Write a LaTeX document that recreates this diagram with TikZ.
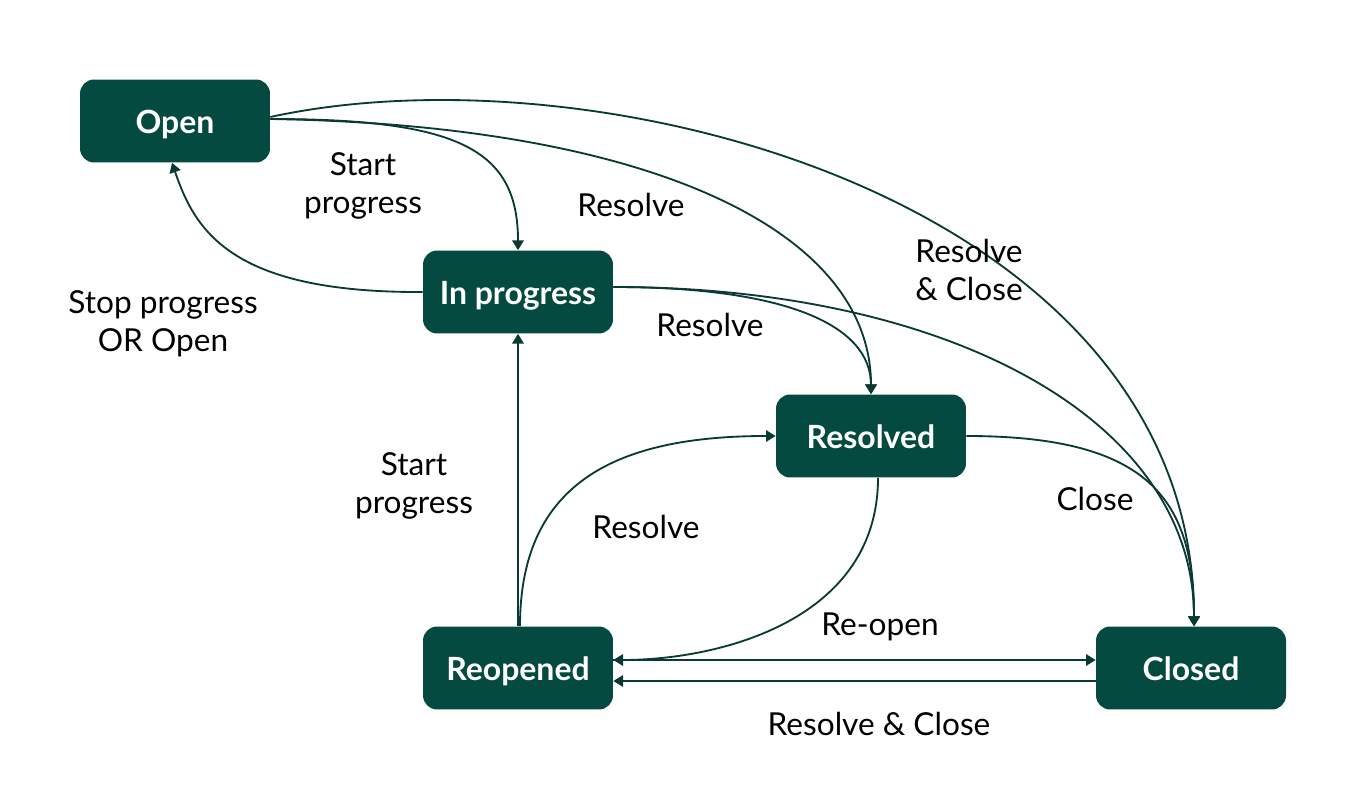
\documentclass[tikz,border=0pt]{standalone}
\usepackage{fontspec}
\setmainfont{Lato}
\usepackage{xcolor}
\usepackage{tikz}
\usetikzlibrary{positioning,arrows.meta}
\definecolor{statefill}{HTML}{054A41}
\definecolor{flowline}{HTML}{0A3A33}

\begin{document}
\begin{tikzpicture}[x=0.02cm, y=-0.02cm, state/.style={fill=statefill, rounded corners=8pt, minimum width=3.8cm, minimum height=1.66cm, text height=14.5pt, text depth=0pt, text=white, align=center, font=\fontsize{18.2}{21}\selectfont\bfseries}, flow/.style={-{Triangle[width=6.5pt,length=5.5pt]}, draw=flowline, line width=1.05pt}, tag/.style={align=center, font=\fontsize{18}{21.5}\selectfont}]
\useasboundingbox (0,0) rectangle (1368,790);
\node[state] (open) at (175,121) {Open};
\node[state] (inprog) at (518,292) {In progress};
\node[state] (resolved) at (871,436) {Resolved};
\node[state] (reopened) at (518,668) {Reopened};
\node[state] (closed) at (1191,668) {Closed};
\draw[flow] ([yshift=0.04cm]open.east) .. controls (460,119) and (518,150) .. (inprog.north);
\draw[flow] ([yshift=0.04cm]open.east) .. controls (650,125) and (871,230) .. (resolved.north);
\draw[flow] ([yshift=0.08cm]open.east) .. controls (600,45) and (1194,200) .. ([xshift=0.06cm]closed.north);
\draw[flow] (inprog.west) .. controls (230,293) and (195,230) .. ([xshift=-0.06cm]open.south);
\draw[flow] ([yshift=0.1cm]inprog.east) .. controls (783,287) and (871,324) .. (resolved.north);
\draw[flow] ([yshift=0.1cm]inprog.east) .. controls (950,287) and (1194,420) .. ([xshift=0.06cm]closed.north);
\draw[flow] (reopened.north) -- (inprog.south);
\draw[flow] ([xshift=0.04cm]reopened.north) .. controls (520,480) and (620,436) .. (resolved.west);
\draw[flow] ([xshift=0.14cm]resolved.south) .. controls (878,620) and (720,660) .. ([yshift=0.16cm]reopened.east);
\draw[flow] ([yshift=0.16cm]reopened.east) -- ([yshift=0.16cm]closed.west);
\draw[flow] ([yshift=-0.26cm]closed.west) -- ([yshift=-0.26cm]reopened.east);
\draw[flow] (resolved.east) .. controls (1150,436) and (1194,500) .. ([xshift=0.06cm]closed.north);
\node[tag] (t1) at (363,186) {Start\\progress};
\node[tag] (t2) at (631,205) {Resolve};
\node[tag] (t3) at (969,270) {Resolve\\\& Close};
\node[tag] (t4) at (163,324) {Stop progress\\OR Open};
\node[tag] (t5) at (710,325) {Resolve};
\node[tag] (t6) at (414,486) {Start\\progress};
\node[tag] (t7) at (646,527) {Resolve};
\node[tag] (t8) at (1095,499) {Close};
\node[tag] (t9) at (880,627) {Re-open};
\node[tag] (t10) at (879,724) {Resolve \& Close};
\end{tikzpicture}
\end{document}
